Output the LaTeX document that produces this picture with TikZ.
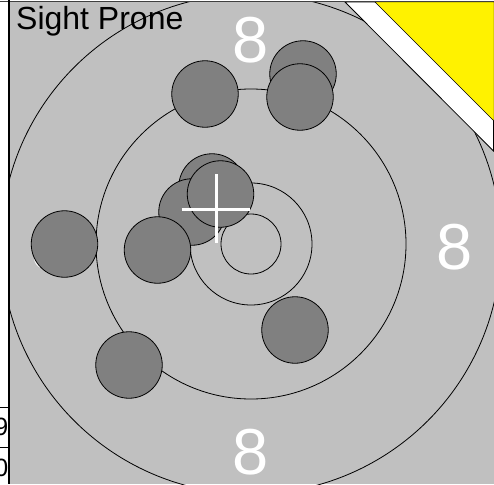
\documentclass[tikz,border=0pt]{standalone}
\usepackage{fontspec}
\setmainfont{Liberation Sans}
\definecolor{cardgray}{HTML}{C0C0C0}
\definecolor{shotgray}{HTML}{808080}
\begin{document}
\begin{tikzpicture}[x=1pt,y=-1pt,
  ring/.style={draw=black, line width=0.8pt},
  shot/.style={circle, draw=black, line width=0.8pt, fill=shotgray, minimum size=66.5pt, inner sep=0pt},
  eight/.style={text=white, font=\fontsize{65}{65}\selectfont, inner sep=0pt, anchor=base},
  cell/.style={text=black, font=\fontsize{25}{25}\selectfont, inner sep=0pt, anchor=base east},
  cross/.style={draw=white, line width=3pt},
]
\useasboundingbox (0,0) rectangle (494,484);
% card background
\fill[cardgray] (10,2) rectangle (494,484);
\fill[white] (0,0) rectangle (9,484);
% rings
\begin{scope}
  \clip (10,2) rectangle (494,484);
  \coordinate (c) at (251,244);
  \draw[ring] (c) circle[radius=30pt];
  \draw[ring] (c) circle[radius=61pt];
  \draw[ring] (c) circle[radius=155pt];
  \draw[ring] (c) circle[radius=250pt];
\end{scope}
% ring numbers
\node[eight] (e1) at (251,63) {8};
\node[eight] (e2) at (455,269) {8};
\node[eight] (e3) at (251,474) {8};
\node[eight] (e4) at (50,269) {8};
% shots
\node[shot] (s1) at (205,94) {};
\node[shot] (s2) at (303,74) {};
\node[shot] (s3) at (300,97) {};
\node[shot] (s4) at (212,187) {};
\node[shot] (s5) at (192,212) {};
\node[shot] (s6) at (220.5,194) {};
\node[shot] (s7) at (157.5,250) {};
\node[shot] (s8) at (64.5,244) {};
\node[shot] (s9) at (295,330) {};
\node[shot] (s10) at (129,365) {};
% crosshair
\coordinate (hl) at (181.5,209);
\coordinate (hr) at (250,209);
\coordinate (vt) at (216.5,174);
\coordinate (vb) at (216.5,243);
\draw[cross] (hl) -- (hr);
\draw[cross] (vt) -- (vb);
% corner stripe
\filldraw[fill=white, draw=black, line width=0.8pt] (345,2) -- (494,2) -- (493.5,151) -- cycle;
\filldraw[fill=yellow, draw=black, line width=0.5pt] (375,2) -- (494,2) -- (494,121) -- cycle;
% title
\node[text=black, font=\fontsize{32}{32}\selectfont, inner sep=0pt, anchor=base west] (title) at (16,29.5) {Sight Prone};
% frame lines
\draw[black!75, line width=1.2pt] (0,1.2) -- (494,1.2);
\draw[black, line width=2pt] (9,0) -- (9,484);
\draw[black, line width=0.8pt] (0,407) -- (9,407);
\draw[black, line width=0.8pt] (0,447) -- (9,447);
% neighbouring cell numbers (cut off)
\node[cell] (n9) at (8.5,435) {9};
\node[cell] (n0) at (8.5,476) {0};
\end{tikzpicture}
\end{document}
